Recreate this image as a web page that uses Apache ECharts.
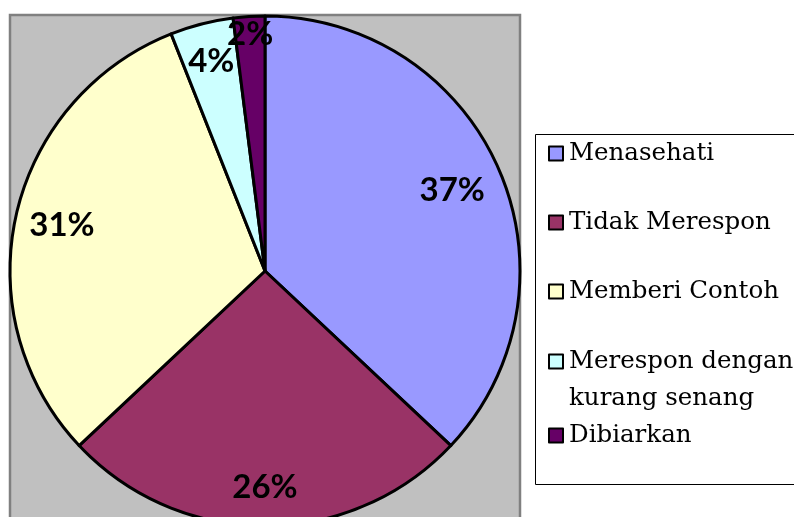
<!DOCTYPE html>
<html>
<head>
<meta charset="utf-8">
<script src="https://cdn.jsdelivr.net/npm/echarts@6/dist/echarts.min.js"></script>
<style>
  html, body { margin: 0; padding: 0; background: #fff; }
  #chart { width: 794px; height: 517px; }
</style>
</head>
<body>
<div id="chart"></div>
<script>
  // data (percent)
  const categories = ['Menasehati', 'Tidak Merespon', 'Memberi Contoh', 'Merespon dengan\nkurang senang', 'Dibiarkan']
  const values = [37, 26, 31, 4, 2]
  const colors = ['#9999FF', '#993366', '#FFFFCC', '#CCFFFF', '#660066']

  // how far out each percent label sits (fraction of radius)
  const labelRadius = [0.80, 0.85, 0.816, 0.847, 0.93]

  const cx = 265, cy = 271, R = 255

  const chart = echarts.init(document.getElementById('chart'))

  const pieData = categories.map((name, i) => ({
    name: name,
    value: values[i],
    itemStyle: { color: colors[i] }
  }))

  const legendText = {
    fontFamily: 'DejaVu Serif',
    fontSize: 24.5,
    color: '#000',
    lineHeight: 37,
    padding: [0, 0, 0, 1]
  }

  const legendBase = {
    orient: 'vertical',
    left: 548,
    padding: 0,
    itemWidth: 14,
    itemHeight: 14,
    icon: 'rect',
    itemStyle: { borderColor: '#000', borderWidth: 2 },
    textStyle: legendText
  }

  const option = {
    animation: false,
    backgroundColor: '#fff',
    graphic: [
      {
        type: 'rect', z: 0,
        shape: { x: 10, y: 15, width: 510, height: 520 },
        style: { fill: '#C0C0C0', stroke: '#808080', lineWidth: 2.5 }
      },
      {
        type: 'rect', z: 0,
        shape: { x: 535.5, y: 134.5, width: 300, height: 350 },
        style: { fill: '#fff', stroke: '#000', lineWidth: 1 }
      }
    ],
    legend: [
      Object.assign({}, legendBase, {
        top: 135,
        itemGap: 32,
        data: categories.slice(0, 3)
      }),
      Object.assign({}, legendBase, {
        top: 306,
        itemGap: 0,
        // empty first line keeps the box on the first text line
        formatter: name => name === categories[3] ? '\n' + name : name,
        data: categories.slice(3)
      })
    ],
    series: [
      {
        type: 'pie',
        center: [cx, cy],
        radius: R,
        startAngle: 90,
        clockwise: true,
        silent: true,
        data: pieData,
        itemStyle: { borderColor: '#000', borderWidth: 3 },
        label: {
          show: true,
          position: 'inside',
          formatter: p => p.value + '%',
          fontFamily: 'Lato, sans-serif',
          fontWeight: 'bold',
          fontSize: 33,
          color: '#000'
        },
        labelLine: { show: false },
        labelLayout: function (p) {
          const r = p.labelRect
          const lx = r.x + r.width / 2
          const ly = r.y + r.height / 2
          const dx = lx - cx, dy = ly - cy
          const d = Math.sqrt(dx * dx + dy * dy) || 1
          const f = labelRadius[p.dataIndex] * R / d
          return { dx: dx * f - dx, dy: dy * f - dy }
        }
      }
    ]
  }

  chart.setOption(option)
</script>
</body>
</html>
